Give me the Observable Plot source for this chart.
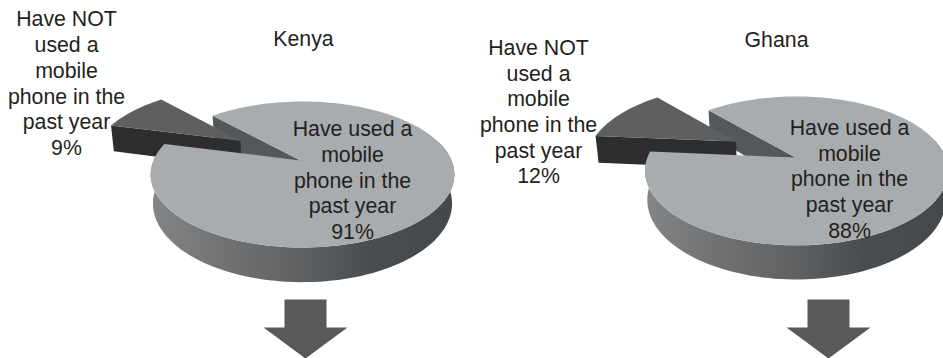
<!DOCTYPE html>
<html>
<head>
<meta charset="utf-8">
<script src="https://cdn.jsdelivr.net/npm/d3@7"></script>
<script src="https://cdn.jsdelivr.net/npm/@observablehq/plot@0.6"></script>
<style>
  html, body { margin: 0; padding: 0; background: #fff; overflow: hidden; }
</style>
</head>
<body>
<div id="chart"></div>
<script>
// Mobile phone use in the past year, by country (percent of respondents)
const countries = ["Kenya", "Ghana"];
const usedShare = [91, 88];
const notUsedShare = [9, 12];
const usedText = "Have used a\nmobile\nphone in the\npast year";
const notUsedText = "Have NOT\nused a\nmobile\nphone in the\npast year";

// Placement of each tilted pie, in chart units
const x0 = [302, 796];
const y0 = [160, 157];
const radiusX = [149, 149];
const radiusY = [70.3, 72];
const tilt = [0.192, 0.18];
const startAngle = [316.6, 318];
const explode = [0.48, 0.45];
const thickness = [28, 28];
const apexNudge = [-2, -1];
const wedgeNudge = [[-3, -3.5], [-2.5, -2]];
const titleAt = [[303, 37], [776, 38]];
const usedAt = [[352, 179], [849, 177.5]];
const notUsedAt = [[66, 82], [538, 110.5]];
const arrowAt = [[305, 299], [828, 299]];
const arrowShape = [[-21, 0], [21, 0], [21, 28], [42, 28], [0, 59], [-42, 28], [-21, 28]];

const colors = {top: "#a9acae", wall: "#55585a", wedgeTop: "#5e5f61", wedgeSide: "#2f2c30", arrow: "#58595b", text: "#231f20"};
const sideStops = [[0, "#838587"], [0.22, "#717375"], [0.5, "#5e6062"], [0.72, "#4a4d4f"], [1, "#45484a"]];

const rad = (d) => (d * Math.PI) / 180;

// Tilted-disc projection: v runs from the back of the disc (-1) to the front (+1)
function project(i, u, v, lower = false, dx = 0, dv = 0) {
  const vv = v + dv, uu = u + dx;
  const w = 1 / (1 - tilt[i] * vv);
  return {
    x: x0[i] + radiusX[i] * uu * w * (lower ? 0.985 : 1),
    y: y0[i] + radiusY[i] * vv * w + (lower ? thickness[i] * w : 0)
  };
}
const rim = (i, deg, lower, dx, dv) => project(i, Math.sin(rad(deg)), -Math.cos(rad(deg)), lower, dx, dv);
const arc = (i, a, b, lower, dx, dv) => {
  const n = Math.ceil(Math.abs(b - a) / 2);
  return d3.range(n + 1).map((k) => rim(i, a + ((b - a) * k) / n, lower, dx, dv));
};
const moved = (p, [a, b]) => ({x: p.x + a, y: p.y + b});

const marks = [];
const shape = (points, fill) => marks.push(
  Plot.line(points, {x: "x", y: "y", fill, stroke: "none", curve: "linear-closed"})
);

countries.forEach((name, i) => {
  const start = startAngle[i];
  const end = start + usedShare[i] * 3.6;
  const wedgeEnd = end + notUsedShare[i] * 3.6;
  const mid = rad((end + wedgeEnd) / 2);
  const dx = explode[i] * Math.sin(mid);
  const dv = -explode[i] * Math.cos(mid);
  const centre = moved(project(i, 0, 0), [apexNudge[i], 0]);
  const centreLow = moved(project(i, 0, 0, true), [apexNudge[i], 0]);
  const nudge = (p) => moved(p, wedgeNudge[i]);

  // Inner cut wall of the large slice
  shape([rim(i, start), centre, centreLow, rim(i, start, true)], colors.wall);

  // Pulled-out slice: cut face first, then its top
  const wedgeApex = nudge(project(i, 0, 0, false, dx, dv));
  const wedgeApexLow = nudge(project(i, 0, 0, true, dx, dv));
  shape([nudge(rim(i, end, false, dx, dv)), wedgeApex, wedgeApexLow, nudge(rim(i, end, true, dx, dv))], colors.wedgeSide);
  shape([wedgeApex, ...arc(i, end, wedgeEnd, false, dx, dv).map(nudge)], colors.wedgeTop);

  // Large slice: outer wall along the near side, then its top
  const wallEnd = end - 360;
  const topEdge = arc(i, 75, wallEnd);
  const lowEdge = arc(i, 75, wallEnd, true);
  shape([...topEdge, ...lowEdge.reverse()], `url(#side-${i})`);
  shape([centre, ...arc(i, start, end)], colors.top);

  // Downward arrow under each pie
  shape(arrowShape.map(([a, b]) => ({x: arrowAt[i][0] + a, y: arrowAt[i][1] + b})), colors.arrow);
});

const textStyle = {fill: colors.text, fontSize: 21.3, lineHeight: 1.207, textAnchor: "middle", lineAnchor: "middle"};
const labels = countries.flatMap((name, i) => [
  {x: titleAt[i][0], y: titleAt[i][1], text: name},
  {x: usedAt[i][0], y: usedAt[i][1], text: `${usedText}\n${usedShare[i]}%`},
  {x: notUsedAt[i][0], y: notUsedAt[i][1], text: `${notUsedText}\n${notUsedShare[i]}%`}
]);

// Horizontal shading for the pie walls
const gradients = () => {
  const defs = d3.create("svg:defs");
  countries.forEach((_, i) => {
    const g = defs.append("linearGradient").attr("id", `side-${i}`);
    sideStops.forEach(([o, c]) => g.append("stop").attr("offset", o).attr("stop-color", c));
  });
  return defs.node();
};

const chart = Plot.plot({
  width: 943,
  height: 358,
  margin: 0,
  style: {background: "#fff", fontFamily: "'Liberation Sans', Arial, sans-serif"},
  x: {domain: [0, 943], range: [0, 943], axis: null},
  y: {domain: [0, 358], range: [0, 358], axis: null},
  marks: [
    gradients,
    ...marks,
    Plot.text(labels, {x: "x", y: "y", text: "text", ...textStyle})
  ]
});
document.getElementById("chart").append(chart);
</script>
</body>
</html>
